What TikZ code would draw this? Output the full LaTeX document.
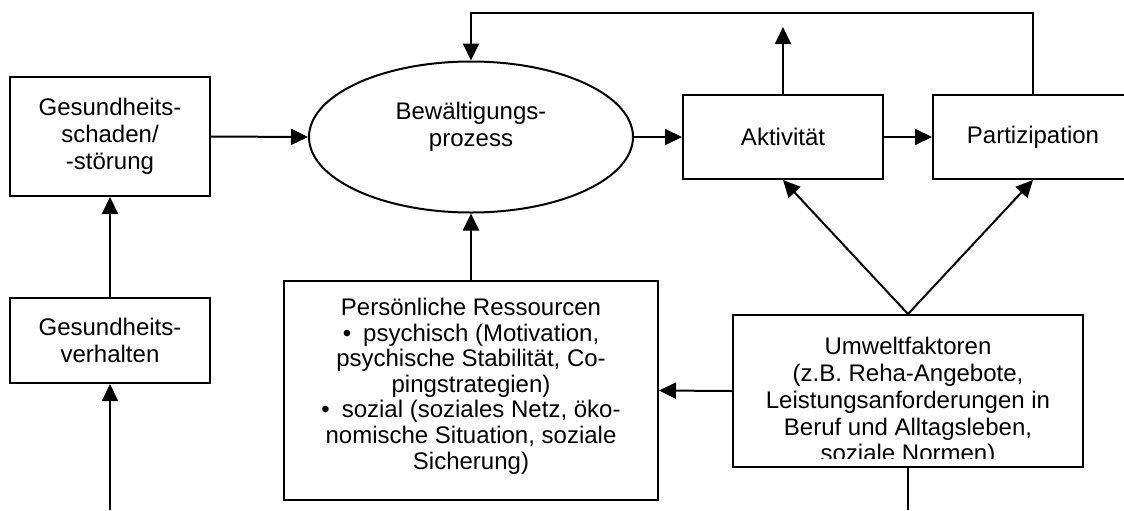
\documentclass[tikz,border=0pt]{standalone}
\usepackage{fontspec}
\setmainfont{Liberation Sans}
\usetikzlibrary{arrows.meta,shapes.geometric}

\tikzset{
  box/.style={draw,line width=1pt,align=center,inner sep=0pt,
    font=\fontsize{12}{13.4}\selectfont},
  txt/.style={align=center,inner sep=0pt,font=\fontsize{12}{13.4}\selectfont},
  arr/.style={-{Triangle[length=8.5pt,width=8pt]},line width=1pt},
  ln/.style={line width=1pt},
}

\begin{document}
\begin{tikzpicture}[x=0.5pt,y=-0.5pt]
\useasboundingbox (0,0) rectangle (1124,510);
% left column
\node[box,minimum width=100pt,minimum height=59.5pt] (schaden) at (110,136.5) {Gesundheits-\\schaden/\\-störung};
\node[box,minimum width=100pt,minimum height=42.5pt] (verhalten) at (110,340.5) {Gesundheits-\\verhalten};
% middle
\node[draw,ellipse,line width=1pt,minimum width=162pt,minimum height=75.5pt,inner sep=0pt] (prozess) at (471,137) {};
\node[txt] (prozesstext) at (471,127) {Bewältigungs-\\prozess};
\node[box,minimum width=187pt,minimum height=109.5pt] (res) at (471,390.5) {};
\node[txt,font=\fontsize{12}{12.8}\selectfont] (restext) at (471,386) {Persönliche Ressourcen\\
  \textbullet\enspace psychisch (Motivation,\\ psychische Stabilität, Co-\\ pingstrategien)\\
  \textbullet\enspace sozial (soziales Netz, öko-\\ nomische Situation, soziale\\ Sicherung)};
% right
\node[box,minimum width=100pt,minimum height=42pt] (aktivitaet) at (783,137) {Aktivität};
\node[box,minimum width=100pt,minimum height=42pt] (partizipation) at (1033,137) {Partizipation};
\node[box,minimum width=175pt,minimum height=76pt] (umwelt) at (908,391) {};
\begin{scope}
  \clip (umwelt.north west) rectangle ([yshift=5pt]umwelt.south east);
  \node[txt] (umwelttext) at (908,402) {Umweltfaktoren\\(z.B. Reha-Angebote,\\Leistungsanforderungen in\\Beruf und Alltagsleben,\\soziale Normen)};
\end{scope}
% free ends
\coordinate (oben) at (0,13);
\coordinate (aktoben) at (783,27);
\coordinate (unten) at (0,510);
% connectors
\draw[arr] (schaden.east) -- (prozess.west);
\draw[arr] (prozess.east) -- (aktivitaet.west);
\draw[arr] (aktivitaet.east) -- (partizipation.west);
\draw[arr] (aktivitaet.north) -- (aktoben);
\draw[arr] (partizipation.north) -- (partizipation.north |- oben) -| (prozess.north);
\draw[arr] (res.north) -- (prozess.south);
\draw[arr] (verhalten.north) -- (schaden.south);
\draw[arr] (verhalten.south |- unten) -- (verhalten.south);
\draw[arr] (umwelt.west) -- (res.east);
\draw[arr] (umwelt.north) -- (aktivitaet.south);
\draw[arr] (umwelt.north) -- (partizipation.south);
\draw[ln] (umwelt.south) -- (umwelt.south |- unten);
\end{tikzpicture}
\end{document}
